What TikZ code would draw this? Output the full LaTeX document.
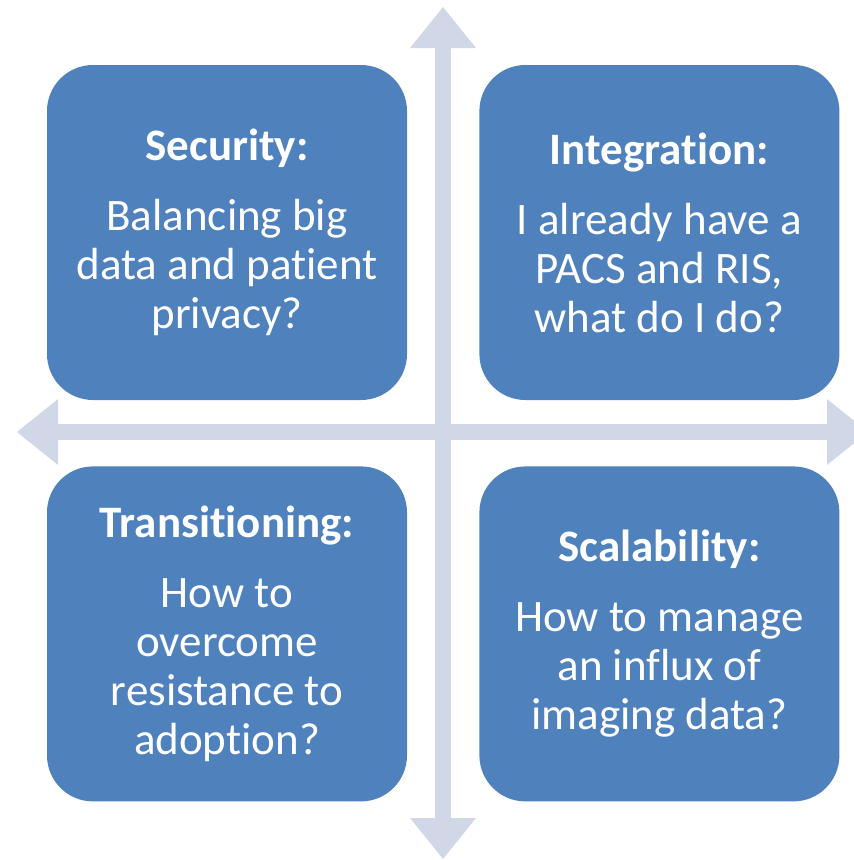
\documentclass[tikz,border=0pt]{standalone}
\usepackage{fontspec}
\setmainfont{Carlito}[Ligatures=NoCommon]
\usetikzlibrary{positioning,arrows.meta}
\definecolor{boxblue}{HTML}{4F81BD}
\definecolor{axisgray}{HTML}{D0D8E8}
\tikzset{
  quad/.style={fill=boxblue, rounded corners=46pt, minimum width=360pt,
               minimum height=335pt, inner sep=0pt, text=white, align=center,
               font=\fontsize{45}{49}\selectfont},
  axishead/.tip={Triangle[width=66pt,length=41pt,line width=0pt]},
  axis/.style={draw=axisgray, line width=16pt, axishead-axishead}
}
\newcommand{\qtitle}[1]{{\fontsize{45}{49}\selectfont\bfseries #1}\\[21pt]}
\begin{document}
\begin{tikzpicture}[x=1pt,y=-1pt]
  \useasboundingbox (0,0) rectangle (854,860);

  % the cross
  \coordinate (up)    at (443,7);
  \coordinate (down)  at (443,859);
  \coordinate (left)  at (17,432);
  \coordinate (right) at (868,432);
  \draw[axis] (left) -- (right);
  \draw[axis] (up) -- (down);

  % the four boxes
  \node[quad] (sec) at (227,232.5) {\qtitle{Security:}Balancing big\\data and patient\\privacy?};
  \node[quad, right=72pt of sec] (int) {\qtitle{Integration:}I already have a\\PACS and RIS,\\what do I do?};
  \node[quad, below=66pt of sec] (tra) {\qtitle{Transitioning:}How to\\overcome\\resistance to\\adoption?};
  \node[quad, right=72pt of tra] (sca) {\qtitle{Scalability:}How to manage\\an influx of\\imaging data?};
\end{tikzpicture}
\end{document}
